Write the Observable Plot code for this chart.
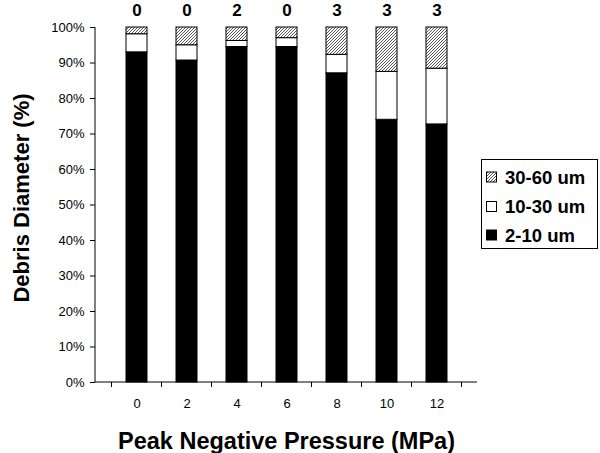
<!DOCTYPE html>
<html>
<head>
<meta charset="utf-8">
<script src="https://cdn.jsdelivr.net/npm/d3@7"></script>
<script src="https://cdn.jsdelivr.net/npm/@observablehq/plot@0.6"></script>
<style>
  html, body { margin: 0; padding: 0; background: white; }
  #chart { position: relative; width: 600px; height: 453px; }
</style>
</head>
<body>
<svg width="0" height="0" style="position:absolute">
  <defs>
    <pattern id="hatch" patternUnits="userSpaceOnUse" width="3" height="3">
      <rect width="3" height="3" fill="white"></rect>
      <path d="M-1,1 l2,-2 M0,3 l3,-3 M2,4 l2,-2" stroke="#444" stroke-width="0.9"></path>
    </pattern>
  </defs>
</svg>
<div id="chart"></div>
<script>
// ---- data ----
const pressures = ["0", "2", "4", "6", "8", "10", "12"];        // Peak negative pressure (MPa)
const sizeClasses = ["2-10 um", "10-30 um", "30-60 um"];
const share2to10 = [93.0, 90.7, 94.5, 94.5, 87.1, 74.0, 72.7];   // %
const share10to30 = [5.1, 4.3, 1.7, 2.5, 5.2, 13.5, 15.7];       // %
const share30to60 = [1.9, 5.0, 3.8, 3.0, 7.7, 12.5, 11.6];       // %
const counts = [0, 0, 2, 0, 3, 3, 3];                             // numbers above bars
const yTicks = [0, 10, 20, 30, 40, 50, 60, 70, 80, 90, 100];
const yTitle = "Debris Diameter (%)";
const xTitle = "Peak Negative Pressure (MPa)";
const legendOrder = ["30-60 um", "10-30 um", "2-10 um"];

// ---- table built from the arrays ----
const seriesValues = [share2to10, share10to30, share30to60];
const rows = [];
pressures.forEach((p, i) => {
  sizeClasses.forEach((c, k) => rows.push({p, cls: c, v: seriesValues[k][i]}));
});
const countRows = pressures.map((p, i) => ({p, n: String(counts[i])}));
const fills = {"2-10 um": "black", "10-30 um": "white", "30-60 um": "url(#hatch)"};
const FONT = "'Liberation Sans', Arial, sans-serif";

// axis lines + boundary ticks drawn from the library's scales
function axesFrame(index, scales, values, dims) {
  const xs = scales.scales.x;
  const x = scales.x, y = scales.y;
  const step = xs.step, bw = xs.bandwidth;
  const g = d3.create("svg:g").attr("stroke", "black").attr("stroke-width", 1);
  const x0 = dims.marginLeft, x1 = dims.width - dims.marginRight;
  const y0 = y(0), y1 = y(100);
  g.append("line").attr("x1", x0).attr("x2", x0).attr("y1", y1).attr("y2", y0);
  g.append("line").attr("x1", x0).attr("x2", x1).attr("y1", y0).attr("y2", y0);
  const edges = pressures.map(p => x(p) + bw / 2 - step / 2);
  edges.push(x(pressures[pressures.length - 1]) + bw / 2 + step / 2);
  edges.forEach(e => g.append("line").attr("x1", e).attr("x2", e).attr("y1", y0).attr("y2", y0 + 5));
  return g.node();
}

const chart = Plot.plot({
  width: 600,
  height: 453,
  marginLeft: 95,
  marginRight: 123,
  marginTop: 27,
  marginBottom: 71,
  style: {fontFamily: FONT, fontSize: "13px", background: "white", color: "black"},
  x: {domain: pressures, padding: 0.59, label: null},
  y: {domain: [0, 100], label: null},
  color: {domain: sizeClasses, range: sizeClasses.map(c => fills[c])},
  marks: [
    Plot.barY(rows, {x: "p", y: "v", fill: "cls", stroke: "black", strokeWidth: 1, order: sizeClasses}),
    axesFrame,
    Plot.axisY({ticks: yTicks, tickFormat: d => d + "%", tickSize: 5, tickPadding: 6, label: null, fontSize: 13}),
    Plot.axisX({tickSize: 0, tickPadding: 16, label: null, fontSize: 13}),
    Plot.text(countRows, {x: "p", y: () => 100, text: "n", dy: -17, fontWeight: "bold", fontSize: 17}),
    Plot.text([xTitle], {frameAnchor: "bottom", text: d => d, dy: 66, fontWeight: "bold", fontSize: 23.5})
  ]
});

const svg = d3.select(chart);

// y-axis title
svg.append("text")
  .attr("transform", "translate(21,198) rotate(-90)")
  .attr("text-anchor", "middle").attr("dy", "0.36em")
  .attr("font-family", FONT).attr("font-size", 22).attr("font-weight", "bold")
  .text(yTitle);

// legend inside the svg
const lg = svg.append("g").attr("font-family", FONT).attr("text-anchor", "start");
lg.append("rect").attr("x", 481.5).attr("y", 159.5).attr("width", 116).attr("height", 89)
  .attr("fill", "white").attr("stroke", "black");
const rowY = [177, 206.5, 235];
legendOrder.forEach((c, i) => {
  lg.append("rect").attr("x", 486.5).attr("y", rowY[i] - 5).attr("width", 10).attr("height", 10)
    .attr("fill", fills[c]).attr("stroke", "black");
  lg.append("text").attr("x", 505).attr("y", rowY[i]).attr("dy", "0.36em")
    .attr("font-size", 18.5).attr("font-weight", "bold").text(c);
});

document.getElementById("chart").appendChild(chart);
</script>
</body>
</html>
